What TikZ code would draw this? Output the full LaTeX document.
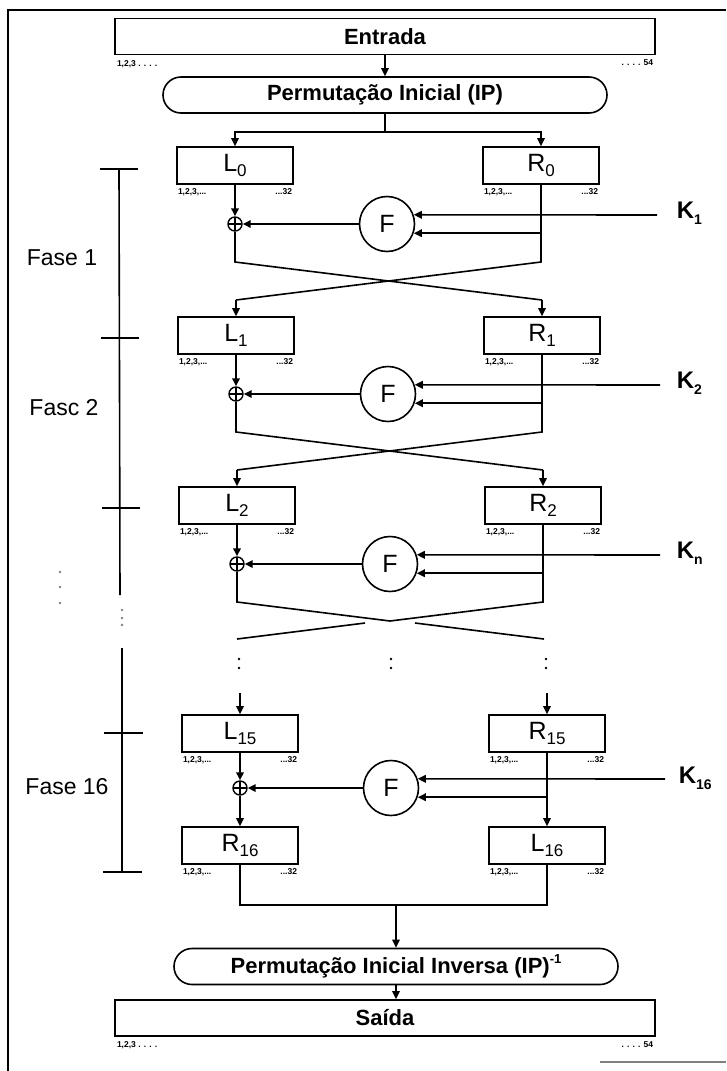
\documentclass[tikz,border=0pt]{standalone}
\usepackage{fontspec}
\setmainfont{Liberation Sans}
\usetikzlibrary{arrows.meta,shapes.misc,calc}
\newcommand\sbx[1]{\raisebox{-5pt}{\fontsize{17}{17}\selectfont #1}}
\newcommand\sbk[1]{\raisebox{-6pt}{\fontsize{14}{14}\selectfont #1}}
\begin{document}
\begin{tikzpicture}[x=1pt,y=-1pt,line width=1.6pt,
 arr/.style={-{Triangle[length=8pt,width=7.5pt]}},
 blk/.style={draw,minimum width=116pt,minimum height=37pt,inner sep=0pt,font=\fontsize{25}{25}\selectfont},
 wide/.style={draw,minimum width=540pt,minimum height=36pt,inner sep=0pt,font=\fontsize{22}{22}\selectfont\bfseries},
 ovl/.style={draw,rounded rectangle,minimum width=444pt,minimum height=36pt,inner sep=0pt,font=\fontsize{22}{22}\selectfont\bfseries},
 fn/.style={draw,circle,minimum size=55pt,inner sep=0pt,font=\fontsize{25}{25}\selectfont},
 xo/.style={draw,circle,minimum size=14pt,inner sep=0pt,line width=1.4pt,
   path picture={\draw[line width=1.4pt] (path picture bounding box.north) -- (path picture bounding box.south)
     (path picture bounding box.west) -- (path picture bounding box.east);}},
 bits/.style={font=\fontsize{8.5}{8.5}\selectfont\bfseries,inner sep=0pt},
 klab/.style={font=\fontsize{24}{24}\selectfont\bfseries,inner sep=0pt,anchor=west},
 fase/.style={font=\fontsize{23}{23}\selectfont,inner sep=0pt},
 dotf/.style={fill=gray}
]
\useasboundingbox (0,0) rectangle (726,1071);
% frame
\draw[line width=1.8pt] (8,1071) -- (8,10) -- (726,10);
\draw[gray,line width=1.8pt] (600,1062) -- (726,1062);

% top
\node[wide] (ent) at (385,36.5) {Entrada};
\node[bits,anchor=north west] (entbl) at ($(ent.south west)+(2,4)$) {1,2,3 . . . .};
\node[bits,anchor=north east] (entbr) at ($(ent.south east)+(-2,4)$) {. . . . 54};
\node[ovl] (ip) at (385,95) {Permutação Inicial (IP)};
\draw[arr] (ent.south) -- (ip.north);
\coordinate (sp) at (385,132);
\draw (ip.south) -- (sp);

% row 0
\node[blk] (l0) at (235,165.5) {L\sbx{0}};
\node[blk] (r0) at (541,165.5) {R\sbx{0}};
\draw[arr] (sp) -| (l0.north);
\draw[arr] (sp) -| (r0.north);
\node[fn] (f0) at (387,224) {F};
\node[xo] (x0) at (235,224) {};
\coordinate (k0) at (657,215);
\node[klab] (k0l) at (676,213) {K\sbk{1}};
\draw[arr] (l0.south) -- (x0.north);
\draw[arr] (f0.west) -- (x0.east);
\draw[arr] (k0) -- (f0.19);
\draw[arr] (r0.south |- f0.-19) -- (f0.-19);
\coordinate (a0l) at (235,262); \coordinate (a0r) at (541,262);
\coordinate (b0l) at (236,300); \coordinate (b0r) at (542,300);

% row 1
\node[blk] (l1) at (236,335.5) {L\sbx{1}};
\node[blk] (r1) at (542,335.5) {R\sbx{1}};
\draw (x0.south) -- (a0l) -- (b0r);
\draw (r0.south) -- (a0r) -- (b0l);
\draw[arr] (b0r) -- (r1.north);
\draw[arr] (b0l) -- (l1.north);
\node[fn] (f1) at (388,394) {F};
\node[xo] (x1) at (236,394) {};
\coordinate (k1) at (660,385);
\node[klab] (k1l) at (676,383) {K\sbk{2}};
\draw[arr] (l1.south) -- (x1.north);
\draw[arr] (f1.west) -- (x1.east);
\draw[arr] (k1) -- (f1.19);
\draw[arr] (r1.south |- f1.-19) -- (f1.-19);
\coordinate (a1l) at (236,432); \coordinate (a1r) at (542,432);
\coordinate (b1l) at (237,470); \coordinate (b1r) at (543,470);

% row 2
\node[blk] (l2) at (237,505.5) {L\sbx{2}};
\node[blk] (r2) at (543,505.5) {R\sbx{2}};
\draw (x1.south) -- (a1l) -- (b1r);
\draw (r1.south) -- (a1r) -- (b1l);
\draw[arr] (b1r) -- (r2.north);
\draw[arr] (b1l) -- (l2.north);
\node[fn] (f2) at (390,564) {F};
\node[xo] (x2) at (237,564) {};
\coordinate (k2) at (660,555);
\node[klab] (k2l) at (676,553) {K\sbk{n}};
\draw[arr] (l2.south) -- (x2.north);
\draw[arr] (f2.west) -- (x2.east);
\draw[arr] (k2) -- (f2.19);
\draw[arr] (r2.south |- f2.-19) -- (f2.-19);
\coordinate (a2l) at (237,602); \coordinate (a2r) at (543,602);
\coordinate (m2) at (390,621);
\coordinate (c2l) at (365,623); \coordinate (c2r) at (415,623);
\coordinate (d2l) at (237,639); \coordinate (d2r) at (544,639);
\draw (x2.south) -- (a2l) -- (m2) -- (a2r) -- (r2.south);
\draw (c2l) -- (d2l);
\draw (c2r) -- (d2r);

% dots
\foreach \xx in {239,391,546}{
  \fill (\xx,659) circle (1.4pt);
  \fill (\xx,668) circle (1.4pt);
}
\coordinate (e15l) at (240,693); \coordinate (e15r) at (547,693);

% row 15
\node[blk] (l15) at (240,733.5) {L\sbx{15}};
\node[blk] (r15) at (547,733.5) {R\sbx{15}};
\draw[arr] (e15l) -- (l15.north);
\draw[arr] (e15r) -- (r15.north);
\node[fn] (f15) at (391,788) {F};
\node[xo] (x15) at (240,788) {};
\coordinate (k15) at (665,779);
\node[klab] (k15l) at (678,778) {K\sbk{16}};
\node[blk] (r16) at (240,845.5) {R\sbx{16}};
\node[blk] (l16) at (547,845.5) {L\sbx{16}};
\draw[arr] (l15.south) -- (x15.north);
\draw[arr] (x15.south) -- (r16.north);
\draw[arr] (f15.west) -- (x15.east);
\draw[arr] (k15) -- (f15.19);
\draw[arr] (r15.south |- f15.-19) -- (f15.-19);
\draw[arr] (r15.south) -- (l16.north);

% bits under boxes
\foreach \b in {l0,r0,l1,r1,l2,r2,l15,r15,r16,l16}{
  \node[bits,anchor=north west] (\b bl) at ($(\b.south west)+(1,3)$) {1,2,3,...};
  \node[bits,anchor=north east] (\b br) at ($(\b.south east)+(-1,3)$) {...32};
}

% bottom
\coordinate (jl) at (240,905); \coordinate (jr) at (547,905); \coordinate (jm) at (396,905);
\node[ovl] (iip) at (396,966.5) {Permutação Inicial Inversa (IP)\raisebox{10pt}{\fontsize{13}{13}\selectfont -1}};
\node[wide] (sai) at (385,1018) {Saída};
\node[bits,anchor=north west] (saibl) at ($(sai.south west)+(2,4)$) {1,2,3 . . . .};
\node[bits,anchor=north east] (saibr) at ($(sai.south east)+(-2,4)$) {. . . . 54};
\draw (r16.south) -- (jl) -- (jr) -- (l16.south);
\draw[arr] (jm) -- (iip.north);
\draw[arr] (iip.south) -- (iip.south |- sai.north);

% phase bracket
\draw (119,169) -- (120,595);
\draw (100,169) -- (138,169);
\draw (101,338) -- (139,338);
\draw (102,508) -- (140,508);
\draw (122,648) -- (122,872);
\draw (104,733) -- (143,733);
\draw (103,872) -- (142,872);
\foreach \yy in {610,618,625}{\fill[dotf] (122,\yy) circle (1.3pt);}
\foreach \yy in {572,587,603}{\fill[dotf] (60,\yy) circle (1.3pt);}
\node[fase] (fa1) at (62,258) {Fase 1};
\node[fase] (fa2) at (64,408) {Fasc 2};
\node[fase] (fa16) at (67,787) {Fase 16};
\end{tikzpicture}
\end{document}
